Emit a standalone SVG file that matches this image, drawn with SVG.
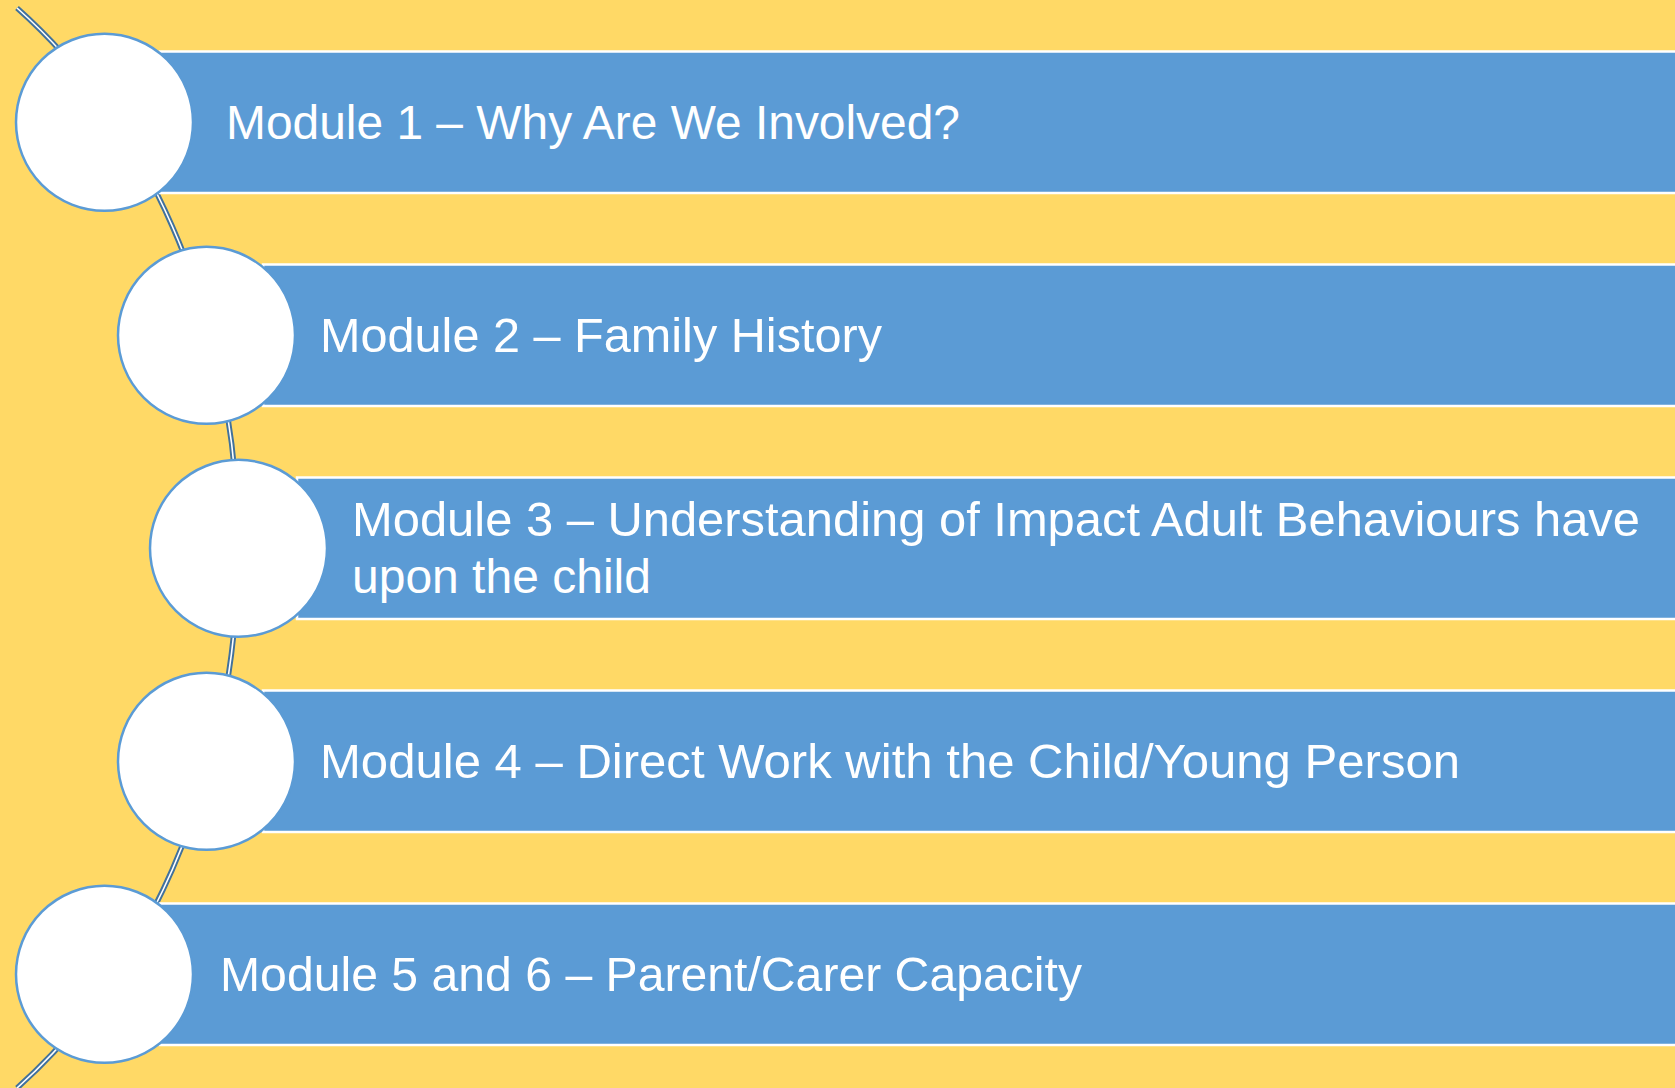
<svg xmlns="http://www.w3.org/2000/svg" width="1675" height="1088" viewBox="0 0 1675 1088">
  <style>
    .bar { fill: #5B9BD5; stroke: #FFFFFF; stroke-width: 2.5; }
    .dot { fill: #FFFFFF; stroke: #5B9BD5; stroke-width: 2.5; }
    .lbl { font-family: "Liberation Sans", Arial, sans-serif; font-size: 48px; fill: #FFFFFF; }
    .arcOuter { fill: none; stroke: #41719C; stroke-width: 5.5; }
    .arcInner { fill: none; stroke: #FFFFFF; stroke-width: 1.6; }
  </style>
  <rect x="0" y="0" width="1675" height="1088" fill="#FFD966"/>
  <g id="connectors">
    <path class="arcOuter" d="M 17 8 A 516 658 0 0 1 17 1088"/>
    <path class="arcInner" d="M 17 8 A 516 658 0 0 1 17 1088"/>
  </g>
  <g id="node1">
    <rect class="bar" x="160" y="51.5" width="1530" height="141.5"/>
    <circle class="dot" cx="104.5" cy="122.3" r="88.5"/>
    <text class="lbl" x="226" y="138.5" textLength="734" lengthAdjust="spacingAndGlyphs">Module 1 – Why Are We Involved?</text>
  </g>
  <g id="node2">
    <rect class="bar" x="263" y="264.5" width="1430" height="141.5"/>
    <circle class="dot" cx="206.5" cy="335.3" r="88.5"/>
    <text class="lbl" x="320" y="351.5" textLength="562" lengthAdjust="spacingAndGlyphs">Module 2 – Family History</text>
  </g>
  <g id="node3">
    <rect class="bar" x="297" y="477.5" width="1400" height="141.5"/>
    <circle class="dot" cx="238.5" cy="548.3" r="88.5"/>
    <text class="lbl" x="352" y="535.5" textLength="1288" lengthAdjust="spacingAndGlyphs">Module 3 – Understanding of Impact Adult Behaviours have</text>
    <text class="lbl" x="352" y="593">upon the child</text>
  </g>
  <g id="node4">
    <rect class="bar" x="263" y="690.5" width="1430" height="141.5"/>
    <circle class="dot" cx="206.5" cy="761.3" r="88.5"/>
    <text class="lbl" x="320" y="777.5" textLength="1140" lengthAdjust="spacingAndGlyphs">Module 4 – Direct Work with the Child/Young Person</text>
  </g>
  <g id="node5">
    <rect class="bar" x="160" y="903.5" width="1530" height="141.5"/>
    <circle class="dot" cx="104.5" cy="974.3" r="88.5"/>
    <text class="lbl" x="220" y="990.5" textLength="862" lengthAdjust="spacingAndGlyphs">Module 5 and 6 – Parent/Carer Capacity</text>
  </g>
</svg>
